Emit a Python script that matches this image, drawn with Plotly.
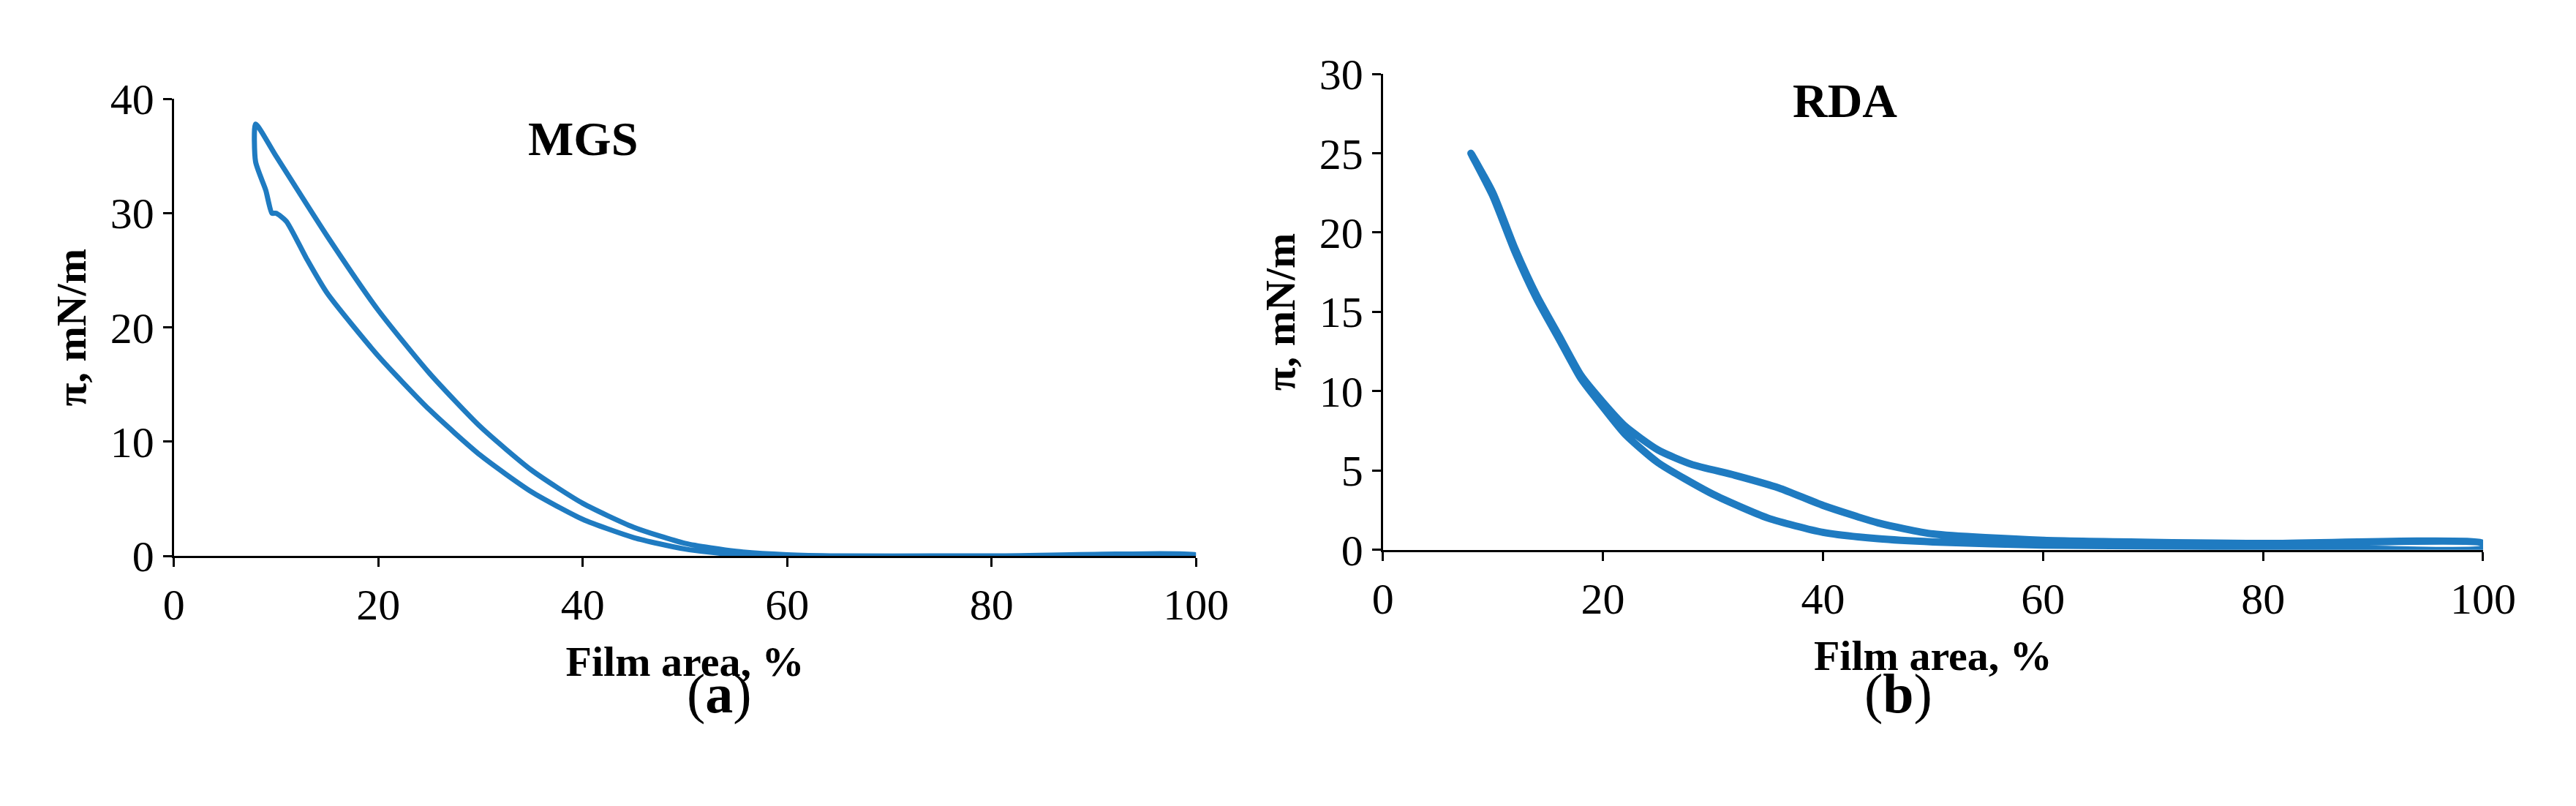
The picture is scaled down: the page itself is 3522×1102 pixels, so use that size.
import plotly.graph_objects as go

# MGS isotherm loop (compression then expansion)
mgs_x = [8, 10, 15, 20, 25, 30, 35, 40, 45, 50, 55, 60, 65, 80, 100,
         100, 80, 60, 55, 50, 45, 40, 35, 30, 25, 20, 15, 13, 11, 10, 9.6, 9, 8, 8]
mgs_y = [37.8, 35, 28, 21.5, 16, 11.3, 7.5, 4.6, 2.5, 1.1, 0.4, 0.1, 0, 0, 0.1,
         0, 0, 0, 0.1, 0.6, 1.6, 3.2, 5.6, 8.8, 12.8, 17.5, 23, 26, 29.3, 30, 30, 32, 34.5, 37.8]

# RDA isotherm loop
rda_x = [8, 10, 12, 14, 16, 18, 20, 22, 25, 28, 32, 36, 40, 45, 50, 60, 80, 100,
         100, 80, 60, 50, 45, 40, 35, 30, 25, 22, 20, 18, 16, 14, 12, 10, 8]
rda_y = [25, 22.5, 19, 16, 13.5, 11, 9.3, 7.8, 6.3, 5.4, 4.7, 3.9, 2.8, 1.7, 1.0, 0.6, 0.4, 0.4,
         0.1, 0.2, 0.3, 0.5, 0.7, 1.1, 2.0, 3.5, 5.5, 7.3, 9.0, 10.8, 13.3, 15.8, 18.8, 22.3, 25]

blue = "#1f7bc1"
font = "Liberation Serif"

fig = go.Figure()
fig.add_trace(go.Scatter(x=mgs_x, y=mgs_y, mode="lines",
                         line=dict(color=blue, width=7, shape="spline", smoothing=0.6),
                         xaxis="x", yaxis="y"))
fig.add_trace(go.Scatter(x=rda_x, y=rda_y, mode="lines",
                         line=dict(color=blue, width=10, shape="spline", smoothing=0.6),
                         xaxis="x2", yaxis="y2"))

ax = dict(showgrid=False, zeroline=False, showline=True, linecolor="black", linewidth=3,
          ticks="outside", ticklen=12, tickwidth=3, tickcolor="black",
          tickfont=dict(family=font, size=60, color="black"))
xt = dict(text="<b>Film area, %</b>", font=dict(family=font, size=58, color="black"), standoff=25)
yt = dict(text="<b>π, mN/m</b>", font=dict(family=font, size=58, color="black"), standoff=15)

fig.update_layout(
    width=3522, height=1102, showlegend=False,
    paper_bgcolor="white", plot_bgcolor="white",
    margin=dict(l=0, r=0, t=0, b=0),
    xaxis=dict(ax, domain=[0.062, 0.4657], range=[0, 100], dtick=20, title=xt, anchor="y"),
    yaxis=dict(ax, domain=[0.305, 0.908], range=[0, 40], dtick=10, title=yt, anchor="x"),
    xaxis2=dict(ax, domain=[0.5395, 0.974], range=[0, 100], dtick=20, title=xt, anchor="y2"),
    yaxis2=dict(ax, domain=[0.313, 0.941], range=[0, 30], dtick=5, title=yt, anchor="x2"),
    annotations=[
        dict(text="<b>MGS</b>", x=40, y=36.5, xref="x", yref="y", showarrow=False,
             font=dict(family=font, size=66, color="black")),
        dict(text="<b>RDA</b>", x=42, y=28.3, xref="x2", yref="y2", showarrow=False,
             font=dict(family=font, size=66, color="black")),
        dict(text="(<b>a</b>)", x=0.264, y=0.08, xref="paper", yref="paper", showarrow=False,
             font=dict(family=font, size=76, color="black")),
        dict(text="(<b>b</b>)", x=0.757, y=0.08, xref="paper", yref="paper", showarrow=False,
             font=dict(family=font, size=76, color="black")),
    ],
)

fig.write_html("out.html")
